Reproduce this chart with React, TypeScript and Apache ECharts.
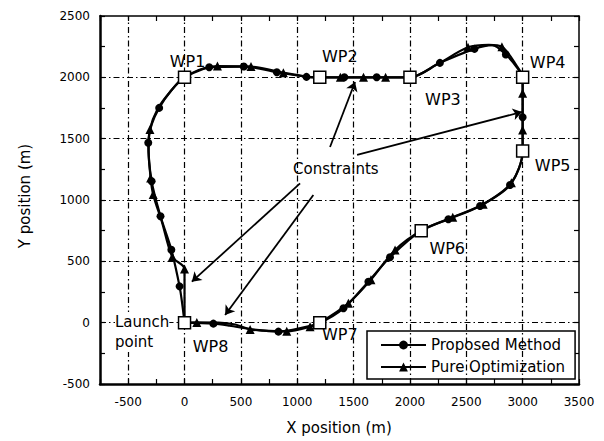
import React, { useEffect, useRef } from 'react';
import * as echarts from 'echarts';

// ---- data ----
const xMin = -750;
const xMax = 3500;
const yMin = -500;
const yMax = 2500;
const xGridValues = [-500, 0, 500, 1000, 1500, 2000, 2500, 3000];
const yGridValues = [0, 500, 1000, 1500, 2000];

const waypointNames = ['WP1', 'WP2', 'WP3', 'WP4', 'WP5', 'WP6', 'WP7', 'WP8'];
const waypointX = [0, 1200, 2000, 3000, 3000, 2100, 1200, 0];
const waypointY = [2000, 2000, 2000, 2000, 1400, 750, 0, 0];

const proposedPath: number[][] = [
  [0, 0], [-20, 150], [-44, 296], [-117, 595], [-213, 867], [-292, 1153], [-322, 1466],
  [-290, 1620], [-225, 1751], [-125, 1885], [0, 2000], [219, 2082], [526, 2088], [819, 2042],
  [1082, 2004], [1200, 2000], [1418, 2000], [1705, 2000], [2000, 2000], [2266, 2118],
  [2573, 2232], [2730, 2262], [2851, 2186], [2950, 2080], [3000, 2000], [3000, 1674],
  [3000, 1400], [2888, 1122], [2622, 951], [2341, 843], [2100, 750], [1823, 533], [1631, 334],
  [1410, 117], [1200, 0], [1000, -50], [833, -73], [600, -55], [400, -25], [256, -8], [0, 0],
];
const purePath: number[][] = [
  [0, 0], [0, 438], [-108, 536], [-200, 820], [-278, 1044], [-301, 1180], [-318, 1400],
  [-307, 1574], [-240, 1740], [-125, 1885], [0, 2000], [292, 2092], [590, 2088], [877, 2038],
  [1100, 2004], [1200, 2000], [1383, 2000], [1588, 2000], [1784, 2000], [2000, 2000],
  [2250, 2110], [2515, 2245], [2700, 2265], [2816, 2250], [2950, 2090], [3000, 2000],
  [3000, 1870], [3000, 1571], [3000, 1400], [2900, 1140], [2650, 965], [2380, 860], [2100, 750],
  [1868, 593], [1654, 350], [1454, 158], [1200, 0], [1114, -33], [907, -70], [700, -65],
  [582, -55], [450, -15], [300, 0], [109, 2], [0, 0],
];
const proposedMarks: number[][] = [
  [-44, 296], [-117, 595], [-213, 867], [-292, 1153], [-322, 1466], [-225, 1751], [219, 2082],
  [526, 2088], [819, 2042], [1082, 2004], [1418, 2000], [1705, 2000], [2266, 2118], [2573, 2232],
  [2851, 2186], [3000, 1674], [2888, 1122], [2622, 951], [2341, 843], [1823, 533], [1631, 334],
  [1410, 117], [833, -73], [256, -8],
];
const pureMarks: number[][] = [
  [0, 438], [-108, 536], [-278, 1044], [-301, 1180], [-307, 1574], [292, 2092], [590, 2088],
  [877, 2038], [1383, 2000], [1588, 2000], [1784, 2000], [2515, 2245], [2816, 2250], [3000, 1870],
  [3000, 1571], [2900, 1140], [2650, 965], [2380, 860], [1868, 593], [1654, 350], [1454, 158],
  [1114, -33], [907, -70], [582, -55], [109, 2],
];
// annotation arrows: [fromX, fromY, toX, toY] in data units
const constraintArrows: number[][] = [
  [1291, 1432, 1513, 1962],
  [1531, 1367, 2994, 1718],
  [1025, 1136, 65, 334],
  [1143, 1041, 360, 63],
];

// ---- layout / style (not data) ----
const labelOffsets: number[][] = [
  [3, -16], [20, -21], [33, 22], [25, -15], [30, 15], [26, 18], [20, 12], [26, 24],
];
const FONT = 'DejaVu Sans';

function buildOption() {
  const tickFmt = (v: number) => (v % 500 === 0 ? String(v) : '');
  const baseX = (position: 'bottom' | 'top', width: number, showLabel: boolean) => ({
    type: 'value',
    position,
    min: xMin,
    max: xMax,
    interval: 250,
    axisLine: { show: true, onZero: false, lineStyle: { color: '#000', width } },
    axisTick: { show: true, inside: true, length: 5, lineStyle: { color: '#000', width: 1.2 } },
    axisLabel: {
      show: showLabel, formatter: tickFmt, color: '#000', fontFamily: FONT, fontSize: 12, margin: 12,
      showMinLabel: true, showMaxLabel: true,
    },
    splitLine: { show: false },
  });
  const baseY = (position: 'left' | 'right', width: number, showLabel: boolean) => ({
    type: 'value',
    position,
    min: yMin,
    max: yMax,
    interval: 250,
    axisLine: { show: true, onZero: false, lineStyle: { color: '#000', width } },
    axisTick: { show: true, inside: true, length: 5, lineStyle: { color: '#000', width: 1.2 } },
    axisLabel: {
      show: showLabel, formatter: tickFmt, color: '#000', fontFamily: FONT, fontSize: 12, margin: 10,
    },
    splitLine: { show: false },
  });

  const gridLineStyle = { color: '#000', width: 1.2, type: [6, 3, 1.5, 3] as any };

  return {
    animation: false,
    backgroundColor: '#fff',
    grid: { left: 100, right: 25, top: 16, bottom: 57 },
    xAxis: [baseX('bottom', 2.5, true), baseX('top', 1.5, false)],
    yAxis: [baseY('left', 2.5, true), baseY('right', 1.5, false)],
    legend: {
      data: ['Proposed Method', 'Pure Optimization'],
      orient: 'vertical',
      left: 367,
      top: 331,
      itemWidth: 45,
      itemHeight: 11,
      itemGap: 6,
      padding: [6, 10, 4, 13],
      borderColor: '#000',
      borderWidth: 1.5,
      borderRadius: 0,
      backgroundColor: '#fff',
      textStyle: { color: '#000', fontFamily: FONT, fontSize: 15, lineHeight: 16 },
      selectedMode: false,
    },
    graphic: [
      {
        type: 'text', left: 115, top: 312, z: 100,
        style: {
          text: 'Launch\npoint', fill: '#000', fontFamily: FONT, fontSize: 15, lineHeight: 20,
          backgroundColor: '#fff',
        },
      },
      {
        type: 'text', left: 293, top: 161, z: 100,
        style: { text: 'Constraints', fill: '#000', fontFamily: FONT, fontSize: 15 },
      },
      {
        type: 'text', x: 339, y: 428, z: 100,
        style: {
          text: 'X position (m)', fill: '#000', fontFamily: FONT, fontSize: 15,
          align: 'center', verticalAlign: 'middle', textAlign: 'center', textVerticalAlign: 'middle',
        },
      },
      {
        type: 'text', x: 25, y: 196, rotation: Math.PI / 2, z: 100,
        style: {
          text: 'Y position (m)', fill: '#000', fontFamily: FONT, fontSize: 15,
          align: 'center', verticalAlign: 'middle', textAlign: 'center', textVerticalAlign: 'middle',
        },
      },
    ],
    series: [
      {
        name: 'gridlines',
        type: 'line',
        z: 1,
        silent: true,
        symbol: 'none',
        data: waypointX.map((x, i) => [x, waypointY[i]]),
        lineStyle: { opacity: 0 },
        markLine: {
          silent: true,
          symbol: 'none',
          label: { show: false },
          lineStyle: gridLineStyle,
          data: [
            ...xGridValues.map((v) => ({ xAxis: v })),
            ...yGridValues.map((v) => ({ yAxis: v })),
          ],
        },
      },
      {
        name: 'Proposed Method',
        type: 'line',
        z: 3,
        smooth: 0.3,
        symbol: 'circle',
        showSymbol: false,
        data: proposedPath,
        itemStyle: { color: '#000' },
        lineStyle: { color: '#000', width: 2.2 },
      },
      {
        name: 'Pure Optimization',
        type: 'line',
        z: 3,
        smooth: 0.3,
        symbol: 'triangle',
        showSymbol: false,
        data: purePath,
        itemStyle: { color: '#000' },
        lineStyle: { color: '#000', width: 2.2 },
      },
      {
        name: 'pm-marks',
        type: 'scatter',
        z: 4,
        symbol: 'circle',
        symbolSize: 8,
        data: proposedMarks,
        itemStyle: { color: '#000', opacity: 1 },
      },
      {
        name: 'po-marks',
        type: 'scatter',
        z: 4,
        symbol: 'triangle',
        symbolSize: 9,
        data: pureMarks,
        itemStyle: { color: '#000', opacity: 1 },
      },
      {
        name: 'waypoints',
        type: 'scatter',
        z: 5,
        symbol: 'rect',
        symbolSize: 12,
        itemStyle: { color: '#fff', borderColor: '#000', borderWidth: 1.5, opacity: 1 },
        data: waypointNames.map((n, i) => ({
          name: n,
          value: [waypointX[i], waypointY[i]],
          label: { offset: labelOffsets[i] },
        })),
        label: {
          show: true,
          position: 'inside',
          formatter: (p: any) => p.name,
          color: '#000',
          fontFamily: FONT,
          fontSize: 16,
        },
        markLine: {
          silent: true,
          symbol: ['none', 'arrow'],
          symbolSize: 9,
          label: { show: false },
          lineStyle: { color: '#000', width: 1.8, type: 'solid' },
          data: constraintArrows.map((a) => [{ coord: [a[0], a[1]] }, { coord: [a[2], a[3]] }]),
        },
      },
    ],
  };
}

export default function App() {
  const ref = useRef<HTMLDivElement>(null);
  useEffect(() => {
    const chart = echarts.init(ref.current!, null, { renderer: 'svg' });
    chart.setOption(buildOption() as any);
    return () => chart.dispose();
  }, []);
  return (
    <div
      ref={ref}
      style={{ position: 'fixed', left: 0, top: 0, width: 604, height: 441, background: '#fff' }}
    />
  );
}
